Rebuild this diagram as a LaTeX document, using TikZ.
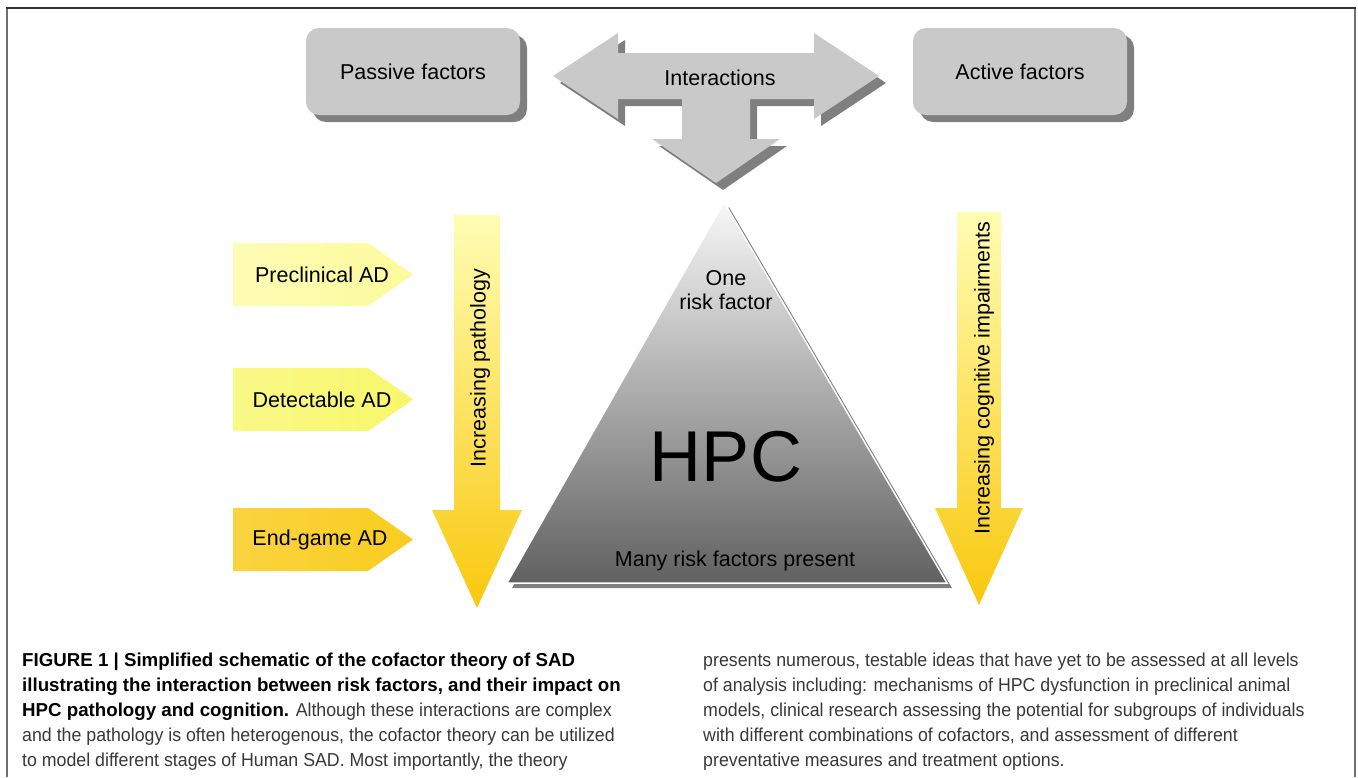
\documentclass[tikz,border=0pt]{standalone}
\usepackage{fontspec}
\setsansfont{Liberation Sans}
\newfontfamily\capfont{Liberation Sans}[FakeStretch=0.95, BoldFeatures={FakeStretch=1.0}]
\usetikzlibrary{shadows}

\definecolor{boxgray}{HTML}{C9C9C9}
\definecolor{shadegray}{HTML}{7F7F7F}
\definecolor{paleyellow}{HTML}{FCFB9C}
\definecolor{brightyellow}{HTML}{F8F76A}
\definecolor{goldyellow}{HTML}{F9CC1E}
\definecolor{arrowtop}{HTML}{FFFDB4}
\definecolor{arrowbottom}{HTML}{F9C80E}
\definecolor{captext}{HTML}{383838}
\definecolor{framegray}{HTML}{6E6E6E}

\begin{document}
\begin{tikzpicture}[
    % one unit = one pixel of the figure, y runs downwards
    x=1pt, y=-1pt,
    big font/.style={
        font=\sffamily\fontsize{21.5}{24}\selectfont,
        align=center,
        inner sep=0pt
    },
    factor/.style={
        big font,
        fill=boxgray,
        rounded corners=13pt,
        minimum width=214pt,
        minimum height=87pt,
        copy shadow={shadow xshift=7pt, shadow yshift=-7pt, fill=shadegray, draw=none}
    },
    grey arrow/.style={
        fill=boxgray
    },
    grey shadow/.style={
        fill=shadegray
    },
    yellow arrow/.style={
        top color=arrowtop,
        bottom color=arrowbottom
    },
    caption/.style={
        font=\capfont\fontsize{18.7}{25}\selectfont,
        text=captext,
        align=left,
        inner sep=0pt,
        anchor=north west
    }
]
    \useasboundingbox (0,0) rectangle (1358,777);

    % --- 1. Frame of the figure ---
    \draw[framegray, line width=2.5pt] (7,777) -- (7,8);
    \draw[framegray, line width=2pt] (1355,8) -- (1355,777);
    \draw[black!80, line width=1.5pt] (6,8) -- (1356,8);

    % --- 2. Factors on top ---
    \node[factor] (passive) at (413,71.5) {Passive factors};
    \node[factor] (active) at (1020,71.5) {Active factors};

    % Interactions arrow (shadow first, then the arrow itself)
    \fill[grey shadow, shift={(7,7)}]
        (553,76) -- (618,33) -- (618,53) -- (814,53) -- (814,33) -- (879,76)
        -- (814,119) -- (814,99) -- (750,99) -- (750,139) -- (780,139)
        -- (716,183) -- (652,139) -- (682,139) -- (682,99) -- (618,99)
        -- (618,119) -- cycle;
    \fill[grey arrow]
        (553,76) -- (618,33) -- (618,53) -- (814,53) -- (814,33) -- (879,76)
        -- (814,119) -- (814,99) -- (750,99) -- (750,139) -- (780,139)
        -- (716,183) -- (652,139) -- (682,139) -- (682,99) -- (618,99)
        -- (618,119) -- cycle;
    \node[big font] (interactions) at (720,78) {Interactions};

    % --- 3. Pyramid ---
    \fill[shadegray] (729,207) -- (952,588) -- (512,588) -- cycle;
    \shadedraw[top color=gray!6, bottom color=black!62, draw=white, line width=1.5pt]
        (724,202) -- (947,583) -- (507,583) -- cycle;
    \node[big font] (one) at (726,290) {One\\risk factor};
    \node[font=\sffamily\fontsize{72}{80}\selectfont, inner sep=0pt] (hpc) at (726,457) {HPC};
    \node[big font] (many) at (735,561) {Many risk factors present};

    % --- 4. Stages of AD ---
    \shade[left color=paleyellow!75!white, right color=paleyellow]
        (233,243) -- (368,243) -- (413,274.5) -- (368,306) -- (233,306) -- cycle;
    \node[big font] (preclinical) at (322,274.5) {Preclinical AD};

    \shade[left color=brightyellow!80!white, right color=brightyellow]
        (233,368) -- (368,368) -- (413,399.5) -- (368,431) -- (233,431) -- cycle;
    \node[big font] (detectable) at (322,399.5) {Detectable AD};

    \shade[left color=goldyellow!85!white, right color=goldyellow]
        (233,508) -- (368,508) -- (413,539.5) -- (368,571) -- (233,571) -- cycle;
    \node[big font] (endgame) at (320,539.5) {End-game AD};

    % --- 5. Yellow arrows ---
    \shade[yellow arrow]
        (454,215) -- (500,215) -- (500,510) -- (522,510) -- (477,608)
        -- (432,510) -- (454,510) -- cycle;
    \node[big font, rotate=90] (pathology) at (480,368) {Increasing pathology};

    \shade[yellow arrow]
        (957,212) -- (1001,212) -- (1001,508) -- (1023,508) -- (979,605)
        -- (935,508) -- (957,508) -- cycle;
    \node[big font, rotate=90] (cognition) at (984,378) {Increasing cognitive impairments};

    % --- 6. Caption ---
    \node[caption] (capleft) at (22,653) {%
        {\color{black}\bfseries FIGURE 1 | Simplified schematic of the cofactor theory of SAD}\\
        {\color{black}\bfseries illustrating the interaction between risk factors, and their impact on}\\
        {\color{black}\bfseries HPC pathology and cognition.} Although these interactions are complex\\
        and the pathology is often heterogenous, the cofactor theory can be utilized\\
        to model different stages of Human SAD. Most importantly, the theory};
    \node[caption] (capright) at (703,653) {%
        presents numerous, testable ideas that have yet to be assessed at all levels\\
        of analysis including: mechanisms of HPC dysfunction in preclinical animal\\
        models, clinical research assessing the potential for subgroups of individuals\\
        with different combinations of cofactors, and assessment of different\\
        preventative measures and treatment options.};

\end{tikzpicture}
\end{document}
